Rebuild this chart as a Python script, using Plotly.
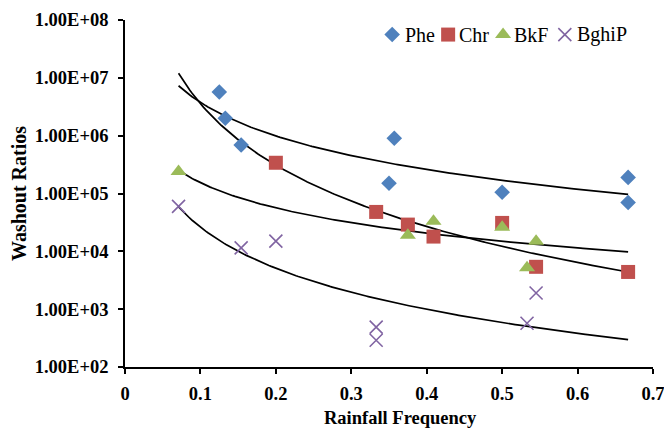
import numpy as np
import plotly.graph_objects as go

# Data
phe_x = [0.125, 0.133, 0.154, 0.357, 0.350, 0.500, 0.667, 0.667]
phe_y = [5.7e6, 2.0e6, 6.9e5, 9.0e5, 1.5e5, 1.05e5, 1.9e5, 7.0e4]

chr_x = [0.200, 0.333, 0.375, 0.409, 0.500, 0.545, 0.667]
chr_y = [3.4e5, 4.8e4, 2.9e4, 1.8e4, 3.1e4, 5.4e3, 4.4e3]

bkf_x = [0.071, 0.375, 0.409, 0.500, 0.545, 0.533]
bkf_y = [2.4e5, 1.9e4, 3.3e4, 2.6e4, 1.5e4, 5.2e3]

bgh_x = [0.071, 0.154, 0.200, 0.333, 0.333, 0.545, 0.533]
bgh_y = [6.0e4, 1.15e4, 1.5e4, 4.9e2, 2.9e2, 1.9e3, 5.7e2]

x_ticks = [0, 0.1, 0.2, 0.3, 0.4, 0.5, 0.6, 0.7]
x_tick_labels = ["0", "0.1", "0.2", "0.3", "0.4", "0.5", "0.6", "0.7"]
y_ticks = [1e2, 1e3, 1e4, 1e5, 1e6, 1e7, 1e8]
y_tick_labels = ["1.00E+02", "1.00E+03", "1.00E+04", "1.00E+05",
                 "1.00E+06", "1.00E+07", "1.00E+08"]

trend_x_range = [0.071, 0.667]

series_names = ["Phe", "Chr", "BkF", "BghiP"]
series_x = [phe_x, chr_x, bkf_x, bgh_x]
series_y = [phe_y, chr_y, bkf_y, bgh_y]
symbols = ["diamond", "square", "triangle-up", "x-thin"]
colors = ["#4F81BD", "#C0504D", "#9BBB59", "#8064A2"]
sizes = [12, 14, 14, 13]

# Legend layout (fractions of the plot area)
legend_marker_x = [0.506, 0.612, 0.716, 0.833]
legend_text_x = [0.526, 0.629, 0.733, 0.852]
legend_y = 0.958

fig = go.Figure()

# Power trendlines (least squares fit in log-log space, like Excel)
xs = np.linspace(trend_x_range[0], trend_x_range[1], 200)
for x, y in zip(series_x, series_y):
    b, loga = np.polyfit(np.log(x), np.log(y), 1)
    ys = np.exp(loga) * xs ** b
    fig.add_trace(go.Scatter(x=xs, y=ys, mode="lines",
                             line=dict(color="black", width=1.7),
                             showlegend=False, hoverinfo="skip"))

def marker_style(sym, col, size):
    m = dict(symbol=sym, color=col, size=size)
    if sym.startswith("x"):
        m["line"] = dict(color=col, width=1.6)
    else:
        m["line"] = dict(width=0)
    return m

for name, x, y, sym, col, size in zip(series_names, series_x, series_y,
                                      symbols, colors, sizes):
    fig.add_trace(go.Scatter(x=x, y=y, mode="markers", name=name,
                             marker=marker_style(sym, col, size),
                             showlegend=False))

font_family = "Liberation Serif, Times New Roman, serif"

# custom legend drawn on a hidden overlay axis
for name, sym, col, size, mx, tx in zip(series_names, symbols, colors, sizes,
                                         legend_marker_x, legend_text_x):
    fig.add_trace(go.Scatter(x=[mx], y=[legend_y], xaxis="x2", yaxis="y2",
                             mode="markers", marker=marker_style(sym, col, size),
                             showlegend=False, hoverinfo="skip"))
    fig.add_annotation(x=tx, y=legend_y, xref="paper", yref="paper",
                       text=name, showarrow=False, xanchor="left", yanchor="middle",
                       font=dict(size=20, family=font_family, color="black"))

# x axis title (sits a little right of the plot centre in the original)
fig.add_annotation(x=0.521, y=-0.147, xref="paper", yref="paper",
                   text="<b>Rainfall Frequency</b>", showarrow=False,
                   xanchor="center", yanchor="middle",
                   font=dict(size=18.5, family=font_family, color="black"))

tick_font = dict(size=18.5, family=font_family, color="black", weight="bold")

# page body has an 8px margin, so the figure is drawn slightly smaller
fig.update_layout(
    width=664, height=421,
    margin=dict(l=117, r=19, t=12, b=62),
    paper_bgcolor="white", plot_bgcolor="white",
    font=dict(family=font_family, color="black"),
    showlegend=False,
    xaxis=dict(range=[0, 0.7], tickvals=x_ticks, ticktext=x_tick_labels,
               showgrid=False, zeroline=False, showline=True, linecolor="black",
               linewidth=1.7, ticks="outside", ticklen=5, tickcolor="black",
               tickwidth=1.7, tickfont=tick_font, ticklabelstandoff=4,
               automargin=False),
    yaxis=dict(type="log", range=[2, 8], tickvals=y_ticks, ticktext=y_tick_labels,
               showgrid=False, zeroline=False, showline=True, linecolor="black",
               linewidth=1.7, ticks="outside", ticklen=5, tickcolor="black",
               tickwidth=1.7, tickfont=tick_font, ticklabelstandoff=6,
               automargin=False,
               title=dict(text="<b>Washout Ratios</b>",
                          font=dict(size=20), standoff=8)),
    xaxis2=dict(overlaying="x", range=[0, 1], visible=False, fixedrange=True),
    yaxis2=dict(overlaying="y", range=[0, 1], visible=False, fixedrange=True),
)

fig.write_html("out.html")
